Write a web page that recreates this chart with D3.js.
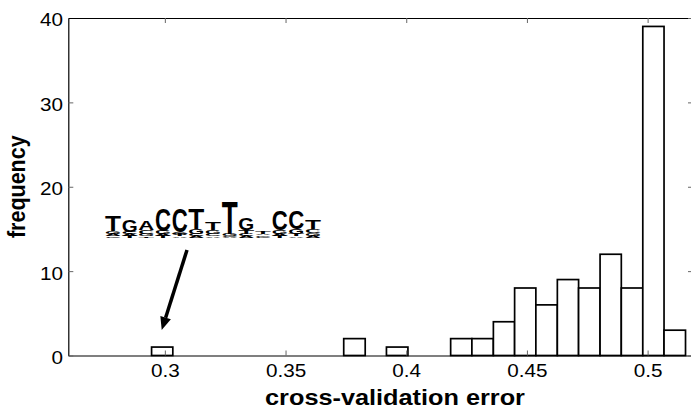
<!DOCTYPE html>
<html>
<head>
<meta charset="utf-8">
<script src="https://cdn.jsdelivr.net/npm/d3@7"></script>
<style>
  body { margin: 0; background: #fff; }
  svg { display: block; }
  text { font-family: "Liberation Sans", Arial, Helvetica, sans-serif; fill: #000; }
</style>
</head>
<body>
<div class="chart"></div>
<script>
// histogram bin edges (26 edges -> 25 bins) and the counts in each bin
const binEdges = [0.2945, 0.3033, 0.3122, 0.3210, 0.3299, 0.3387, 0.3476, 0.3564, 0.3653,
  0.3741, 0.3830, 0.3918, 0.4007, 0.4095, 0.4184, 0.4272, 0.4361, 0.4449, 0.4537,
  0.4626, 0.4714, 0.4803, 0.4891, 0.4980, 0.5068, 0.5157]
const counts = [1, 0, 0, 0, 0, 0, 0, 0, 0, 2, 0, 1, 0, 0, 2, 2, 4, 8, 6, 9, 8, 12, 8, 39, 3]

const xTicks = [0.3, 0.35, 0.4, 0.45, 0.5]
const yTicks = [0, 10, 20, 30, 40]
const xLabel = "cross-validation error"
const yLabel = "frequency"

// sequence logo of the best motif: each column stacked bottom -> top, [letter, bits]
const logoCols = [
  [["C", 0.08], ["A", 0.12], ["G", 0.16], ["T", 0.8]],
  [["T", 0.1], ["A", 0.12], ["C", 0.12], ["G", 0.6]],
  [["T", 0.08], ["G", 0.12], ["C", 0.2], ["A", 0.5]],
  [["T", 0.1], ["A", 0.1], ["G", 0.18], ["C", 1.2]],
  [["A", 0.08], ["T", 0.1], ["G", 0.12], ["C", 1.25]],
  [["A", 0.1], ["C", 0.1], ["G", 0.25], ["T", 1.1]],
  [["A", 0.08], ["C", 0.12], ["G", 0.22], ["T", 0.42]],
  [["A", 0.05], ["C", 0.05], ["G", 0.1], ["T", 1.75]],
  [["A", 0.1], ["C", 0.12], ["T", 0.22], ["G", 0.6]],
  [["C", 0.06], ["G", 0.08], ["A", 0.08], ["T", 0.1]],
  [["T", 0.1], ["A", 0.12], ["G", 0.2], ["C", 1.05]],
  [["A", 0.08], ["T", 0.12], ["G", 0.25], ["C", 1.0]],
  [["A", 0.1], ["G", 0.14], ["C", 0.22], ["T", 0.45]]
]

const W = 691, H = 409
const stretch = 1.15   // the picture is a bit wider than tall

const svg = d3.select(".chart").append("svg")
  .attr("width", W).attr("height", H)

const xScale = d3.scaleLinear().domain([0.26, 0.5188]).range([68.3, 693])
const yScale = d3.scaleLinear().domain([0, 40]).range([355.5, 18])

// bars
svg.append("g").selectAll("rect")
  .data(counts)
  .join("rect")
  .attr("x", (d, i) => xScale(binEdges[i]))
  .attr("width", (d, i) => xScale(binEdges[i + 1]) - xScale(binEdges[i]))
  .attr("y", d => yScale(d))
  .attr("height", d => yScale(0) - yScale(d))
  .attr("fill", "#fff")
  .attr("stroke", "#000")
  .attr("stroke-width", 1.7)

// axes (ticks pointing inward, matlab style)
const xAxis = d3.axisBottom(xScale).tickValues(xTicks).tickSizeInner(-5).tickSizeOuter(0)
  .tickPadding(8.6).tickFormat(d3.format("~g"))
const yAxis = d3.axisLeft(yScale).tickValues(yTicks).tickSizeInner(-5).tickSizeOuter(0)
  .tickPadding(4.6)
const topAxis = d3.axisTop(xScale).tickValues(xTicks).tickSizeInner(-5).tickSizeOuter(0).tickFormat("")
const rightAxis = d3.axisRight(yScale).tickValues(yTicks).tickSizeInner(-5).tickSizeOuter(0).tickFormat("")

svg.append("g").attr("class", "axis x-axis")
  .attr("transform", `translate(0, ${yScale(0)})`).call(xAxis)
svg.append("g").attr("class", "axis y-axis")
  .attr("transform", `translate(${xScale.range()[0]}, 0)`).call(yAxis)
svg.append("g").attr("class", "axis top-axis")
  .attr("transform", `translate(0, ${yScale(40)})`).call(topAxis)
svg.append("g").attr("class", "axis right-axis")
  .attr("transform", `translate(${xScale.range()[1]}, 0)`).call(rightAxis)

svg.selectAll(".axis .domain").attr("stroke", "#000").attr("stroke-width", 1.2)
svg.selectAll(".axis .tick line").attr("stroke", "#666").attr("stroke-width", 1)
svg.selectAll(".axis text")
  .attr("font-size", 18)
  .attr("font-family", null)
  .attr("fill", "#000")
  .attr("transform", `scale(${stretch},1)`)
svg.selectAll(".y-axis text").attr("dy", "0.44em")

// axis titles
svg.append("text")
  .attr("transform", `translate(395, 405) scale(${stretch},1)`)
  .attr("text-anchor", "middle")
  .attr("font-size", 22)
  .attr("font-weight", "bold")
  .text(xLabel)

svg.append("text")
  .attr("transform", `translate(25, ${(yScale(0) + yScale(40)) / 2}) scale(${stretch},1) rotate(-90)`)
  .attr("text-anchor", "middle")
  .attr("font-size", 21.5)
  .attr("font-weight", "bold")
  .text(yLabel)

// sequence logo
const logoX = d3.scaleBand().domain(d3.range(logoCols.length)).range([105, 321]).paddingInner(0.04)
const bits = d3.scaleLinear().domain([0, 2]).range([0, 38])
const logoBase = 238
const logo = svg.append("g").attr("class", "logo")

logoCols.forEach((col, i) => {
  let yb = logoBase
  col.forEach(([letter, b]) => {
    const h = bits(b)
    const t = logo.append("text")
      .attr("font-size", 100)
      .attr("font-weight", "bold")
      .text(letter)
    const adv = t.node().getComputedTextLength()
    const sx = logoX.bandwidth() / adv
    const sy = h / 71.6
    t.attr("transform", `translate(${logoX(i)}, ${yb}) scale(${sx}, ${sy})`)
    yb -= h
  })
})

// arrow from the logo to the lone bar at 0.3
const tip = [xScale((binEdges[0] + binEdges[1]) / 2) - 0.5, yScale(counts[0]) - 17]
const tail = [187, 250]
const ang = Math.atan2(tip[1] - tail[1], tip[0] - tail[0])
const headLen = 13, headW = 5.5
const back = [tip[0] - headLen * Math.cos(ang), tip[1] - headLen * Math.sin(ang)]
svg.append("line")
  .attr("x1", tail[0]).attr("y1", tail[1])
  .attr("x2", back[0]).attr("y2", back[1])
  .attr("stroke", "#000").attr("stroke-width", 3.5)
svg.append("path")
  .attr("d", d3.line()([
    tip,
    [back[0] + headW * Math.sin(ang), back[1] - headW * Math.cos(ang)],
    [back[0] - headW * Math.sin(ang), back[1] + headW * Math.cos(ang)]
  ]) + "Z")
  .attr("fill", "#000")
</script>
</body>
</html>
